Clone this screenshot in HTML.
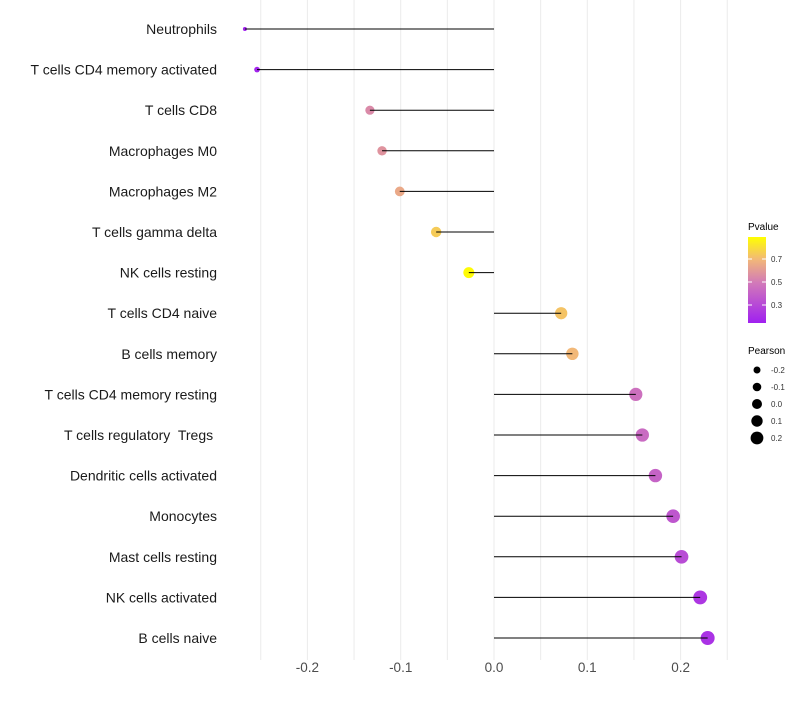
<!DOCTYPE html>
<html><head><meta charset="utf-8"><style>
body{margin:0;background:#fff;}
svg text{font-family:"Liberation Sans",sans-serif;white-space:pre;}
</style></head><body>
<svg id="c" width="800" height="700" xmlns="http://www.w3.org/2000/svg">
<defs><linearGradient id="pg" x1="0" y1="1" x2="0" y2="0">
<stop offset="0" stop-color="#a020f0"/><stop offset="0.47" stop-color="#d27ab8"/><stop offset="0.74" stop-color="#f2b878"/><stop offset="1" stop-color="#ffff00"/></linearGradient></defs>
<g id="grid"></g><g id="marks"></g><g id="labels"></g>
<g>
<text x="748" y="230" font-size="10" fill="#000">Pvalue</text>
<rect x="748" y="237" width="18" height="86" fill="url(#pg)"/>
<line x1="748" y1="259" x2="752" y2="259" stroke="#fff"/><line x1="762" y1="259" x2="766" y2="259" stroke="#fff"/>
<line x1="748" y1="282" x2="752" y2="282" stroke="#fff"/><line x1="762" y1="282" x2="766" y2="282" stroke="#fff"/>
<line x1="748" y1="305" x2="752" y2="305" stroke="#fff"/><line x1="762" y1="305" x2="766" y2="305" stroke="#fff"/>
<text x="771" y="262" font-size="8" fill="#333">0.7</text>
<text x="771" y="285" font-size="8" fill="#333">0.5</text>
<text x="771" y="308" font-size="8" fill="#333">0.3</text>
</g>
<g>
<text x="748" y="354" font-size="10" fill="#000">Pearson</text>
<circle cx="757" cy="370" r="3.5"/><text x="771" y="373" font-size="8" fill="#333">-0.2</text>
<circle cx="757" cy="387" r="4.3"/><text x="771" y="390" font-size="8" fill="#333">-0.1</text>
<circle cx="757" cy="404" r="5"/><text x="771" y="407" font-size="8" fill="#333">0.0</text>
<circle cx="757" cy="421" r="5.7"/><text x="771" y="424" font-size="8" fill="#333">0.1</text>
<circle cx="757" cy="438" r="6.4"/><text x="771" y="441" font-size="8" fill="#333">0.2</text>
</g>
</svg>
<script>
const cells=["Neutrophils","T cells CD4 memory activated","T cells CD8","Macrophages M0","Macrophages M2","T cells gamma delta","NK cells resting","T cells CD4 naive","B cells memory","T cells CD4 memory resting","T cells regulatory  Tregs ","Dendritic cells activated","Monocytes","Mast cells resting","NK cells activated","B cells naive"];
const pearson=[-0.267,-0.254,-0.133,-0.120,-0.101,-0.062,-0.027,0.072,0.084,0.152,0.159,0.173,0.192,0.201,0.221,0.229];
const pvalue=[0.16,0.17,0.55,0.58,0.65,0.75,0.88,0.73,0.70,0.46,0.44,0.41,0.36,0.32,0.24,0.22];
const xTicks=[-0.2,-0.1,0.0,0.1,0.2];
const NS="http://www.w3.org/2000/svg";
const X=v=>494+v*933;
const Y=i=>29+i*40.6;
const R=v=>2+5*Math.sqrt(Math.max(0,v+0.267)/0.496);
const stops=[[0.15,[160,32,240]],[0.5,[210,122,184]],[0.7,[242,184,120]],[0.89,[255,255,0]]];
function col(p){if(p<=stops[0][0])return "rgb("+stops[0][1]+")";
for(let k=1;k<stops.length;k++){if(p<=stops[k][0]){const a=stops[k-1],b=stops[k],t=(p-a[0])/(b[0]-a[0]);return "rgb("+a[1].map((c,j)=>Math.round(c+(b[1][j]-c)*t)).join(",")+")";}}
return "rgb(255,255,0)";}
function mk(t,a,p){const e=document.createElementNS(NS,t);for(const k in a)e.setAttribute(k,a[k]);p.appendChild(e);return e;}
const g=document.getElementById("grid"),m=document.getElementById("marks"),l=document.getElementById("labels");
for(let v=-0.25;v<=0.2501;v+=0.05){const ln=mk("line",{x1:X(v),x2:X(v),y1:0,y2:660,stroke:"#ebebeb","stroke-width":1},g);

}
xTicks.forEach(v=>{const t=mk("text",{x:X(v),y:672,"font-size":13.5,"text-anchor":"middle",fill:"#4d4d4d"},l);t.textContent=v.toFixed(1);

});
cells.forEach((c,i)=>{
const t=mk("text",{x:217,y:Y(i)+5,"font-size":14,"text-anchor":"end",fill:"#1a1a1a"},l);t.textContent=c;


const ci=mk("circle",{cx:X(pearson[i]),cy:Y(i),r:R(pearson[i]),fill:col(pvalue[i])},m);


const s=mk("line",{x1:X(0),x2:X(pearson[i]),y1:Y(i),y2:Y(i),stroke:"#000","stroke-width":1},m);


});
</script>
</body></html>
